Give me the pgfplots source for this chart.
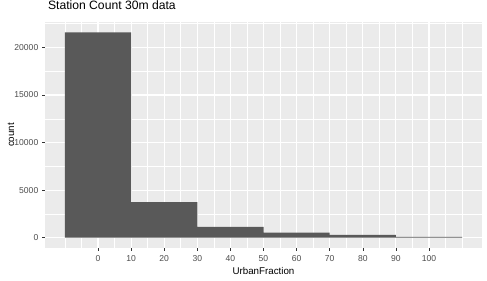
\documentclass[border=0pt]{standalone}
\usepackage{pgfplots}
\pgfplotsset{compat=1.18}
\usepackage{fontspec}
\setmainfont{Liberation Sans}
\definecolor{panelbg}{HTML}{EBEBEB}
\definecolor{barfill}{HTML}{595959}
\definecolor{ticktext}{HTML}{4D4D4D}
\definecolor{tickcol}{HTML}{333333}
\begin{document}
\begin{tikzpicture}
\useasboundingbox (-45bp,-33bp) rectangle (442bp,248bp);
\fill[white] (-45bp,-33bp) rectangle (442bp,248bp);
\begin{axis}[
  scale only axis,
  width=437bp, height=226bp,
  xmin=-16, xmax=116,
  ymin=-1080, ymax=22680,
  axis background/.style={fill=panelbg},
  axis line style={draw=none},
  xtick={0,10,...,100},
  ytick={0,5000,10000,15000,20000},
  minor xtick={-10,-5,5,15,25,35,45,55,65,75,85,95,105,110},
  minor ytick={2500,7500,12500,17500,22500},
  grid=both,
  major grid style={white, line width=1.1bp},
  minor grid style={white, line width=0.55bp},
  xtick pos=bottom, ytick pos=left,
  tick align=outside,
  major tick length=2.7bp,
  minor tick length=0pt,
  tick style={tickcol, line width=0.5bp},
  scaled y ticks=false,
  /pgf/number format/1000 sep={},
  /pgf/number format/assume math mode=true,
  tick label style={font=\fontsize{8.6}{10}\selectfont, text=ticktext},
  xticklabel style={yshift=-1.5bp},
  yticklabel style={xshift=-0.5bp},
  title={Station Count 30m data},
  title style={at={(axis description cs:0,1)}, anchor=base west, yshift=7bp, xshift=-0.5bp, font=\fontsize{12.2}{14}\selectfont},
  xlabel={UrbanFraction},
  ylabel={count},
  xlabel style={at={(axis description cs:0.5,0)}, anchor=center, yshift=-23bp, font=\fontsize{9.8}{12}\selectfont},
  ylabel style={at={(axis description cs:0,0.5)}, anchor=center, yshift=34bp, font=\fontsize{9.8}{12}\selectfont},
]
\addplot[ybar interval, fill=barfill, draw=none] coordinates {
  (-10,21600) (10,3750) (30,1140) (50,540) (70,310) (90,100) (110,100)
};
\end{axis}
\end{tikzpicture}
\end{document}
